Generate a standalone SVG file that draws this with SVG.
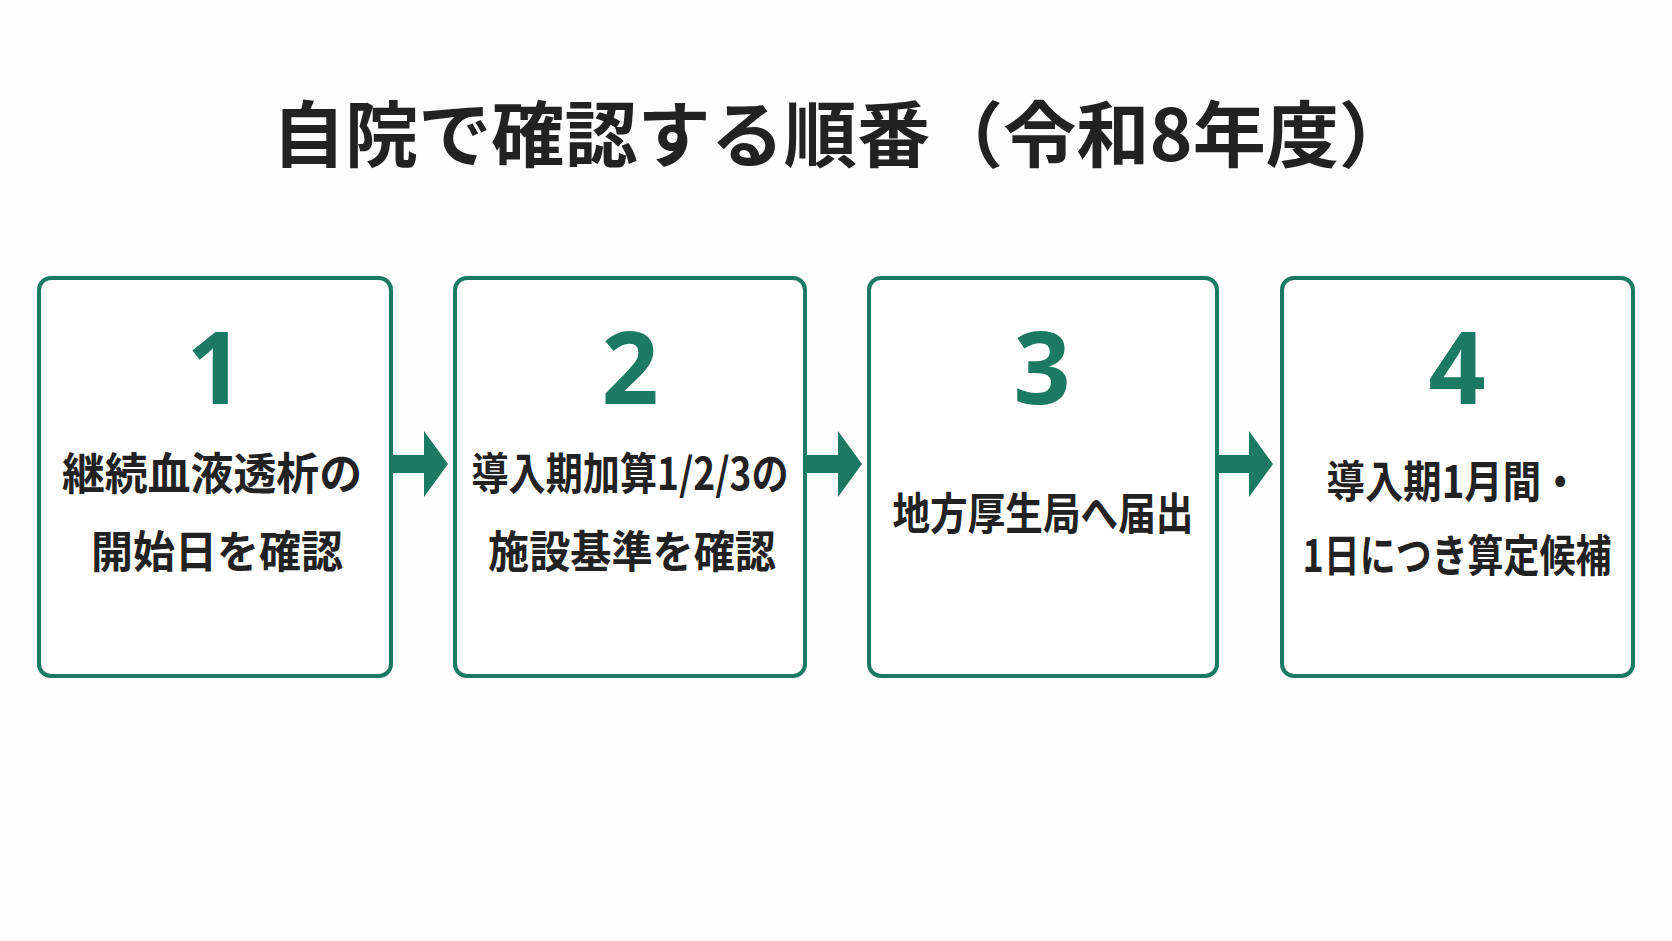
<svg xmlns="http://www.w3.org/2000/svg" width="1672" height="941" viewBox="0 0 1672 941">
<style>
.box{fill:#fff;stroke:#1d7a62;stroke-width:4}
.num{font-family:"Noto Sans","Noto Sans CJK JP",sans-serif;font-weight:700;font-size:100px;fill:#1d7a62;text-anchor:middle}
.lbl{font-family:"Noto Sans CJK JP",sans-serif;font-weight:700;font-size:44px;fill:#222;text-anchor:middle}
.arr{fill:#1d7a62}
</style>
<rect width="1672" height="941" fill="#fdfdfd"/>
<text x="842" y="161" font-family="Noto Sans CJK JP, sans-serif" font-weight="700" font-size="72" fill="#222" text-anchor="middle" textLength="1140" lengthAdjust="spacingAndGlyphs">自院で確認する順番（令和8年度）</text>
<g id="n1"><rect class="box" x="39" y="278" width="352" height="398" rx="12"/><text class="num" x="215" y="404">1</text><text class="lbl" x="212" y="490" textLength="300" lengthAdjust="spacingAndGlyphs">継続血液透析の</text><text class="lbl" x="217" y="568" textLength="252" lengthAdjust="spacingAndGlyphs">開始日を確認</text></g>
<g id="n2"><rect class="box" x="455" y="278" width="350" height="398" rx="12"/><text class="num" x="630" y="404">2</text><text class="lbl" x="630" y="490" textLength="317" lengthAdjust="spacingAndGlyphs">導入期加算1/2/3の</text><text class="lbl" x="632" y="568" textLength="288" lengthAdjust="spacingAndGlyphs">施設基準を確認</text></g>
<g id="n3"><rect class="box" x="869" y="278" width="348" height="398" rx="12"/><text class="num" x="1042" y="404">3</text><text class="lbl" x="1043" y="530" textLength="301" lengthAdjust="spacingAndGlyphs">地方厚生局へ届出</text></g>
<g id="n4"><rect class="box" x="1282" y="278" width="351" height="398" rx="12"/><text class="num" x="1457" y="404">4</text><text class="lbl" x="1453" y="498" textLength="253" lengthAdjust="spacingAndGlyphs">導入期1月間・</text><text class="lbl" x="1457" y="572" textLength="309" lengthAdjust="spacingAndGlyphs">1日につき算定候補</text></g>
<g id="connectors">
<path class="arr" d="M391 455h33v-24l24 33-24 33v-24h-33z"/>
<path class="arr" d="M805 455h33v-24l24 33-24 33v-24h-33z"/>
<path class="arr" d="M1217 455h32v-24l24 33-24 33v-24h-32z"/>
</g>
</svg>
